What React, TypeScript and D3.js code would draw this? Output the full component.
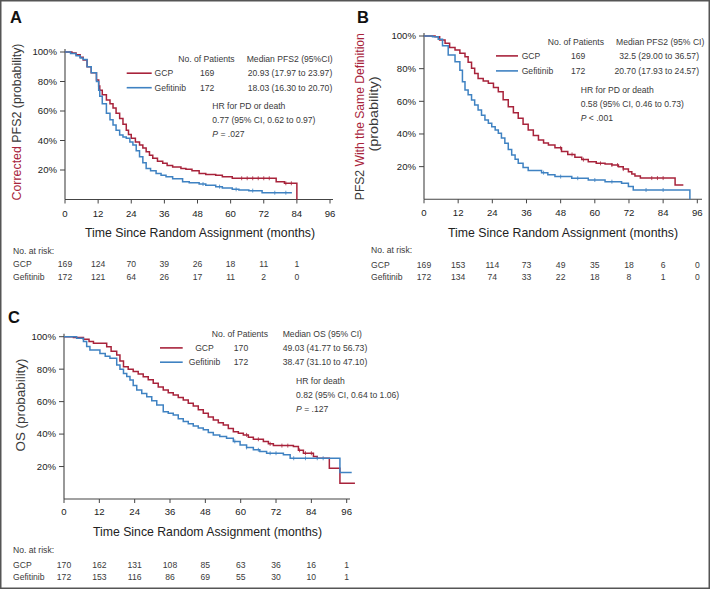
import React from "react";
import * as d3 from "d3";

// ---------- DATA ----------
const riskTicks = [0, 12, 24, 36, 48, 60, 72, 84, 96];
const yTicks = [0.2, 0.4, 0.6, 0.8, 1.0];
const groups = ["GCP", "Gefitinib"];

// Panel A: Corrected PFS2 (month, survival %)
const aGCP: [number, number][] = [
  [0, 100], [2.5, 99.4], [4, 98.2], [5.5, 96.5], [6.6, 94.6], [8, 90], [9.5, 86], [11.4, 81], [12.2, 77], [12.6, 74],
  [13.5, 71], [15, 67.5], [16.3, 65], [17.4, 62], [18.5, 58.5], [19.8, 55], [21, 51], [22.2, 47], [23, 44], [24, 41.5],
  [25.5, 39], [27, 37], [28.2, 35], [29.4, 32.4], [30.6, 30], [31.8, 28], [33.5, 26], [35.4, 24.5], [37, 23], [39, 22],
  [42, 21], [43.8, 20.5], [46, 19.5], [48.6, 17.7], [51, 17], [54.6, 16.4], [57, 15.5], [60.6, 14.4], [76.5, 12],
  [79.5, 11], [84, 0],
];
const aGef: [number, number][] = [
  [0, 100], [2, 99], [4, 97.5], [5.5, 96], [6.6, 95], [8, 90], [9.5, 86], [11.4, 80], [12.2, 74], [12.6, 70],
  [13.5, 65], [15, 58.4], [16.3, 54], [17.4, 50.5], [18.5, 47], [19.8, 43.7], [21, 42.3], [22.2, 41.5], [23.5, 39],
  [24.6, 37], [25.8, 33], [27, 29], [28.2, 25], [29.4, 21], [31, 19.5], [33, 17.7], [34.8, 16.5], [36.6, 15.5],
  [39, 14], [42.6, 12], [45, 11.3], [48.6, 10.5], [51, 9.6], [54.6, 8.7], [57, 7.8], [60.6, 6.9], [63, 6.5],
  [66.6, 6], [71.4, 4.6], [82.2, 4.6],
];
const aGCPCens = [64, 66, 68, 70, 72, 74, 80, 82];
const aGefCens = [50, 56, 62, 68, 76, 80];

// Panel B: PFS2 with the same definition
const bGCP: [number, number][] = [
  [0, 100], [3.9, 99.5], [5.5, 97.5], [7.4, 95.5], [9, 93], [10.9, 91.4], [12.6, 89.5], [14.4, 87.3], [15.5, 84],
  [16.7, 80.2], [17.8, 77], [19, 74], [20.8, 72.5], [22.6, 71], [24.4, 68.5], [26.1, 65.9], [27.8, 61], [29.6, 56.7],
  [31.4, 53], [33.1, 49.6], [34.8, 46], [36.6, 42.4], [38.4, 39], [40.2, 36.3], [42, 34.5], [43.7, 33.3], [46, 31.5],
  [48.3, 29.2], [50.5, 27.5], [53, 25.7], [55.4, 24.3], [57.7, 23], [60.5, 22], [63.6, 21.6], [66, 21], [68.3, 20],
  [70, 18.5], [71.8, 16.9], [73, 15.5], [74.1, 14.3], [76, 13], [88.2, 8.8], [91.1, 8.8],
];
const bGef: [number, number][] = [
  [0, 100], [3, 99.5], [5, 98], [6.5, 94], [8.5, 88.4], [10.9, 84.3], [12.6, 79], [13.5, 72], [14.4, 67], [15.5, 64],
  [16.7, 60.8], [17.8, 57.7], [19, 54.7], [20.2, 51.5], [21.4, 48.6], [22.6, 46.5], [23.8, 44.5], [25, 42.5],
  [26.1, 40.4], [27.2, 37.5], [28.4, 34.3], [29.6, 30.5], [30.8, 27.1], [32, 24.5], [33.1, 22], [34.8, 19.5],
  [36.6, 17.6], [41.3, 16.3], [43.5, 15], [46, 13.9], [51.9, 12.9], [57.7, 11.8], [63.6, 10.8], [69.4, 9.8],
  [71.8, 7.8], [73.5, 5.7], [93.4, 0],
];
const bGCPCens = [48, 52, 56, 62, 66, 68, 70, 80, 82, 84];
const bGefCens = [42, 48, 54, 60, 66, 78, 84];

// Panel C: OS
const cGCP: [number, number][] = [
  [0, 100], [3.2, 99.5], [6.6, 98.4], [8.5, 97], [10, 95.9], [14.5, 93.8], [16, 91], [17.9, 88.7], [19, 85],
  [20.2, 81.5], [21.8, 80], [23.5, 78.5], [25.2, 77], [26.9, 75.4], [28.6, 73.5], [30.3, 71.3], [32, 69],
  [33.7, 67.2], [35.4, 65.5], [37.1, 64.1], [38.8, 62.5], [40.5, 61], [42.2, 59], [43.9, 57.3], [45.6, 55],
  [47.3, 52.8], [49, 50.5], [50.7, 48.7], [52.4, 47], [54.1, 45.6], [55.8, 43.5], [57.5, 41.5], [59.2, 40.5],
  [60.9, 39.5], [62.6, 38], [64.3, 36.8], [67.7, 35.4], [69.4, 34], [71.1, 32.9], [77.9, 32.3], [79.6, 30],
  [81.3, 28.2], [84.7, 26.2], [86, 25.1], [90.1, 19], [93.7, 9.7], [98.8, 9.7],
];
const cGef: [number, number][] = [
  [0, 100], [4.3, 99], [6.6, 97], [7.7, 94], [8.8, 91.8], [12.2, 89.7], [14, 88], [15.6, 86.7], [17.9, 82.6],
  [19, 80], [20.2, 77.4], [21.3, 75.5], [22.4, 73.3], [23.5, 70], [24.7, 67.2], [26.4, 65], [28.1, 63], [29.8, 60.5],
  [31.5, 57.9], [33.7, 53.8], [35.4, 52.8], [37.1, 51.8], [38.8, 49.5], [40.5, 47.7], [42.2, 46.3], [43.9, 45],
  [45.6, 43.8], [47.3, 42.6], [49, 41], [50.7, 39.5], [52.9, 38.5], [55.2, 37.4], [57.5, 35.5], [59.8, 33.3],
  [62, 31.8], [64.3, 30.3], [66.5, 29.2], [68.8, 28.2], [74.5, 27.2], [76.8, 25.1], [93.7, 16.3], [97.7, 16.3],
];
const cGCPCens = [62, 66, 70, 74, 76, 80, 82, 84];
const cGefCens = [58, 62, 66, 70, 72, 78, 82, 86, 88];

// Numbers at risk
const aRiskGCP = [169, 124, 70, 39, 26, 18, 11, 1];
const aRiskGef = [172, 121, 64, 26, 17, 11, 2, 0];
const bRiskGCP = [169, 153, 114, 73, 49, 35, 18, 6, 0];
const bRiskGef = [172, 134, 74, 33, 22, 18, 8, 1, 0];
const cRiskGCP = [170, 162, 131, 108, 85, 63, 36, 16, 1];
const cRiskGef = [172, 153, 116, 86, 69, 55, 30, 10, 1];

// Legend texts
const aN = ["169", "172"];
const aMed = ["20.93 (17.97 to 23.97)", "18.03 (16.30 to 20.70)"];
const aHR = ["HR for PD or death", "0.77 (95% CI, 0.62 to 0.97)", "= .027"];
const bN = ["169", "172"];
const bMed = ["32.5 (29.00 to 36.57)", "20.70 (17.93 to 24.57)"];
const bHR = ["HR for PD or death", "0.58 (95% CI, 0.46 to 0.73)", "< .001"];
const cN = ["170", "172"];
const cMed = ["49.03 (41.77 to 56.73)", "38.47 (31.10 to 47.10)"];
const cHR = ["HR for death", "0.82 (95% CI, 0.64 to 1.06)", "= .127"];

// ---------- STYLE ----------
const RED = "#a8233b";
const BLUE = "#3f82c2";
const TXT = "#3a3a3a";
const FONT = "'Liberation Sans', Arial, Helvetica, sans-serif";
const SMALL = 8.6;

type Curve = [number, number][];

interface PanelCfg {
  letter: string;
  letterPos: [number, number];
  xRange: [number, number];
  xAxisEnd: number;
  yRange: [number, number];
  tickLabelY: number;
  xTitle: { cx: number; y: number; len: number };
  curves: [Curve, Curve];
  cens: [number[], number[]];
  risk: [number[], number[]];
  riskLabelX: number;
  riskY: [number, number, number];
  yTitle: React.ReactNode;
  legend: {
    headerY: number;
    noX: number;
    medX: number;
    medHeader: string;
    rowY: [number, number];
    lineX: [number, number];
    labelX: number;
    labelAnchor: "start" | "middle";
    nX: number;
    nAnchor: "start" | "middle";
    medValX: number;
    medAnchor: "start" | "end";
    n: string[];
    med: string[];
    hrX: number;
    hrY: [number, number, number];
    hr: string[];
  };
}

function stepY(curve: Curve, t: number) {
  let v = curve[0][1];
  for (const [x, y] of curve) {
    if (x <= t) v = y;
    else break;
  }
  return v;
}

function Panel({ cfg }: { cfg: PanelCfg }) {
  const x = d3.scaleLinear().domain([0, 96]).range(cfg.xRange);
  const y = d3.scaleLinear().domain([0, 1]).range(cfg.yRange);
  const line = d3
    .line<[number, number]>()
    .x((d) => x(d[0]))
    .y((d) => y(d[1] / 100))
    .curve(d3.curveStepAfter);
  const colors = [RED, BLUE];
  const axisColor = "#444";
  const y0 = y(0);
  const L = cfg.legend;
  return (
    <g>
      <text x={cfg.letterPos[0]} y={cfg.letterPos[1]} fontSize={16.5} fontWeight="bold" fill="#111">
        {cfg.letter}
      </text>
      {cfg.yTitle}
      {/* axes */}
      <line x1={cfg.xRange[0]} x2={cfg.xAxisEnd} y1={y0} y2={y0} stroke={axisColor} strokeWidth={1.1} />
      <line x1={cfg.xRange[0]} x2={cfg.xRange[0]} y1={y0} y2={y(1) - 3} stroke={axisColor} strokeWidth={1.1} />
      {riskTicks.map((t) => (
        <g key={"xt" + t}>
          <line x1={x(t)} x2={x(t)} y1={y0} y2={y0 + 4} stroke={axisColor} strokeWidth={1} />
          <text x={x(t)} y={cfg.tickLabelY} textAnchor="middle" fontSize={9.6} fill="#222">
            {t}
          </text>
        </g>
      ))}
      {yTicks.map((t) => (
        <g key={"yt" + t}>
          <line x1={cfg.xRange[0] - 5} x2={cfg.xRange[0]} y1={y(t)} y2={y(t)} stroke={axisColor} strokeWidth={1} />
          <text x={cfg.xRange[0] - 8} y={y(t)} dy="0.35em" textAnchor="end" fontSize={9.6} fill="#222">
            {d3.format(".0%")(t)}
          </text>
        </g>
      ))}
      <text
        x={cfg.xTitle.cx}
        y={cfg.xTitle.y}
        textAnchor="middle"
        fontSize={13.5}
        fill="#222"
        textLength={cfg.xTitle.len}
        lengthAdjust="spacingAndGlyphs"
      >
        Time Since Random Assignment (months)
      </text>
      {/* curves */}
      {cfg.curves.map((c, i) => (
        <path key={"c" + i} d={line(c) || ""} fill="none" stroke={colors[i]} strokeWidth={1.5} />
      ))}
      {cfg.cens.map((arr, i) =>
        arr.map((t) => (
          <line
            key={"cen" + i + "-" + t}
            x1={x(t)}
            x2={x(t)}
            y1={y(stepY(cfg.curves[i], t) / 100) - 2}
            y2={y(stepY(cfg.curves[i], t) / 100) + 2}
            stroke={colors[i]}
            strokeWidth={0.8}
          />
        ))
      )}
      {/* legend */}
      <g fontSize={SMALL} fill={TXT}>
        <text x={L.noX} y={L.headerY}>No. of Patients</text>
        <text x={L.medX} y={L.headerY}>{L.medHeader}</text>
        {groups.map((g, i) => (
          <g key={"lg" + i}>
            <line x1={L.lineX[0]} x2={L.lineX[1]} y1={L.rowY[i] - 2.8} y2={L.rowY[i] - 2.8} stroke={colors[i]} strokeWidth={1.6} />
            <text x={L.labelX} y={L.rowY[i]} textAnchor={L.labelAnchor}>{g}</text>
            <text x={L.nX} y={L.rowY[i]} textAnchor={L.nAnchor}>{L.n[i]}</text>
            <text x={L.medValX} y={L.rowY[i]} textAnchor={L.medAnchor}>{L.med[i]}</text>
          </g>
        ))}
        <text x={L.hrX} y={L.hrY[0]}>{L.hr[0]}</text>
        <text x={L.hrX} y={L.hrY[1]}>{L.hr[1]}</text>
        <text x={L.hrX} y={L.hrY[2]}>
          <tspan fontStyle="italic">P</tspan> {L.hr[2]}
        </text>
      </g>
      {/* risk table */}
      <g fontSize={SMALL} fill={TXT}>
        <text x={cfg.riskLabelX} y={cfg.riskY[0]}>No. at risk:</text>
        {groups.map((g, i) => (
          <g key={"rk" + i}>
            <text x={cfg.riskLabelX} y={cfg.riskY[i + 1]}>{g}</text>
            {cfg.risk[i].map((v, j) => (
              <text key={j} x={x(riskTicks[j])} y={cfg.riskY[i + 1]} textAnchor="middle">
                {v}
              </text>
            ))}
          </g>
        ))}
      </g>
    </g>
  );
}

const panelA: PanelCfg = {
  letter: "A",
  letterPos: [10, 23],
  xRange: [65, 330],
  xAxisEnd: 333,
  yRange: [199.5, 52],
  tickLabelY: 216.5,
  xTitle: { cx: 200, y: 237, len: 230 },
  curves: [aGCP, aGef],
  cens: [aGCPCens, aGefCens],
  risk: [aRiskGCP, aRiskGef],
  riskLabelX: 13,
  riskY: [253.5, 267, 280],
  yTitle: (
    <text
      transform="translate(21,122) rotate(-90)"
      textAnchor="middle"
      fontSize={13.5}
      fill={TXT}
      textLength={157}
      lengthAdjust="spacingAndGlyphs"
    >
      <tspan fill={RED}>Corrected</tspan> PFS2 (probability)
    </text>
  ),
  legend: {
    headerY: 62,
    noX: 178.3,
    medX: 246.7,
    medHeader: "Median PFS2 (95%CI)",
    rowY: [76, 90.5],
    lineX: [126.7, 151.7],
    labelX: 154.5,
    labelAnchor: "start",
    nX: 200,
    nAnchor: "start",
    medValX: 247.7,
    medAnchor: "start",
    n: aN,
    med: aMed,
    hrX: 212.3,
    hrY: [108.7, 123.3, 137.3],
    hr: aHR,
  },
};

const panelB: PanelCfg = {
  letter: "B",
  letterPos: [357, 23],
  xRange: [424, 697.3],
  xAxisEnd: 702,
  yRange: [199.3, 36],
  tickLabelY: 216,
  xTitle: { cx: 563, y: 237, len: 230 },
  curves: [bGCP, bGef],
  cens: [bGCPCens, bGefCens],
  risk: [bRiskGCP, bRiskGef],
  riskLabelX: 371,
  riskY: [252.7, 267.5, 280],
  yTitle: (
    <g fontSize={13.5} fill={TXT} textAnchor="middle">
      <text transform="translate(364,116.7) rotate(-90)" textLength={167} lengthAdjust="spacingAndGlyphs">
        PFS2 <tspan fill={RED}>With the Same Definition</tspan>
      </text>
      <text transform="translate(378,114) rotate(-90)" textLength={75} lengthAdjust="spacingAndGlyphs">
        (probability)
      </text>
    </g>
  ),
  legend: {
    headerY: 45.3,
    noX: 547.7,
    medX: 616,
    medHeader: "Median PFS2 (95% CI)",
    rowY: [58.7, 73.7],
    lineX: [496, 518],
    labelX: 521.7,
    labelAnchor: "start",
    nX: 571,
    nAnchor: "start",
    medValX: 699,
    medAnchor: "end",
    n: bN,
    med: bMed,
    hrX: 580.7,
    hrY: [92.7, 106.7, 121],
    hr: bHR,
  },
};

const panelC: PanelCfg = {
  letter: "C",
  letterPos: [8, 323],
  xRange: [64, 346.7],
  xAxisEnd: 350,
  yRange: [499, 336.7],
  tickLabelY: 515,
  xTitle: { cx: 207.5, y: 536, len: 229 },
  curves: [cGCP, cGef],
  cens: [cGCPCens, cGefCens],
  risk: [cRiskGCP, cRiskGef],
  riskLabelX: 13,
  riskY: [553, 568, 580],
  yTitle: (
    <text
      transform="translate(25,405) rotate(-90)"
      textAnchor="middle"
      fontSize={13.5}
      fill={TXT}
      textLength={93}
      lengthAdjust="spacingAndGlyphs"
    >
      OS (probability)
    </text>
  ),
  legend: {
    headerY: 336.7,
    noX: 211.7,
    medX: 282.7,
    medHeader: "Median OS (95% CI)",
    rowY: [350.7, 365],
    lineX: [160, 182.7],
    labelX: 204.5,
    labelAnchor: "middle",
    nX: 241,
    nAnchor: "middle",
    medValX: 282.7,
    medAnchor: "start",
    n: cN,
    med: cMed,
    hrX: 296,
    hrY: [384, 398, 412.3],
    hr: cHR,
  },
};

export default function App() {
  return (
    <svg
      width={710}
      height={589}
      viewBox="0 0 710 589"
      style={{ position: "absolute", left: 0, top: 0, background: "#fff" }}
      fontFamily={FONT}
    >
      <rect x={0} y={0} width={710} height={589} fill="#fff" />
      <Panel cfg={panelA} />
      <Panel cfg={panelB} />
      <Panel cfg={panelC} />
      <rect x={0.75} y={0.75} width={708.5} height={587.5} fill="none" stroke="#555" strokeWidth={1.5} />
    </svg>
  );
}
